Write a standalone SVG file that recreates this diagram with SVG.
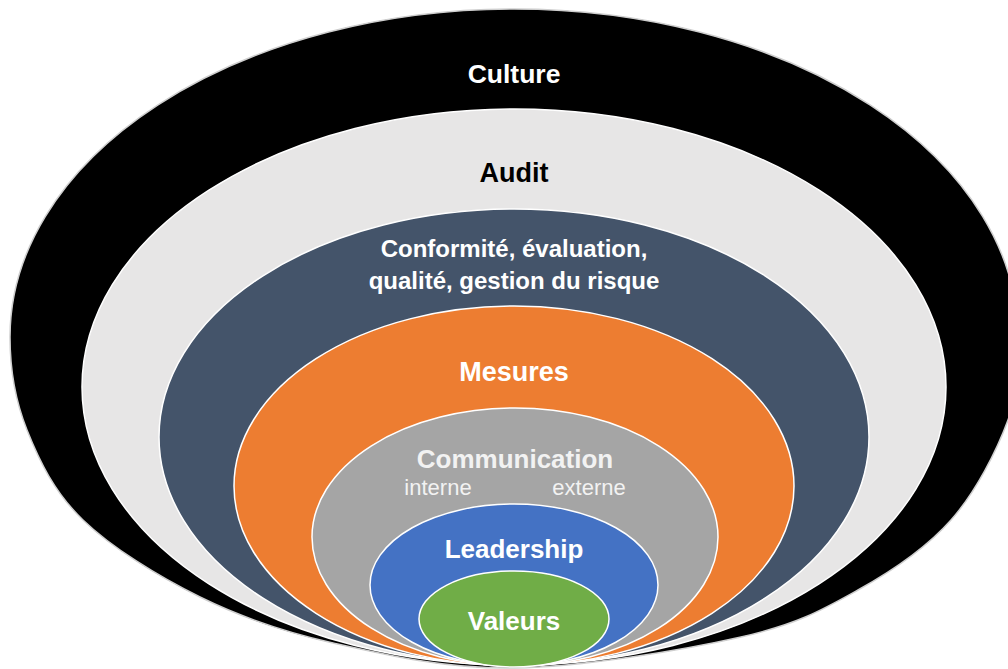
<svg xmlns="http://www.w3.org/2000/svg" width="1008" height="669" viewBox="0 0 1008 669">
<style>
.ring{stroke:#ffffff;stroke-width:1.5}
.lbl{font-family:"Liberation Sans",Arial,sans-serif;font-weight:bold;text-anchor:middle;fill:#ffffff}
.sub{font-family:"Liberation Sans",Arial,sans-serif;font-weight:normal;text-anchor:middle;fill:#f2f2f2;font-size:22px}
</style>
<rect width="1008" height="669" fill="#ffffff"/>
<g id="culture">
<path d="M10,337 C10,368 14.8,399.5 27,430 C39.2,460.5 54.2,492.2 83,520 C111.8,547.8 158.3,576.5 200,597 C241.7,617.5 280.7,631.2 333,643 C385.3,654.8 446,669 514,668 C582,667 683.7,650 741,637 C798.3,624 823,609.5 858,590 C893,570.5 926,548.3 951,520 C976,491.7 996.8,450.5 1008,420 C1019.2,389.5 1018,365 1018,337 A504,328 0 0 0 10,337 Z" fill="#000000" stroke="#cfcfcf" stroke-width="1.5"/>
<text class="lbl" x="514" y="83" font-size="26.5">Culture</text>
</g>
<g id="audit">
<ellipse class="ring" cx="514" cy="387" rx="432" ry="278" fill="#e7e6e6"/>
<text class="lbl" x="514" y="182" font-size="27" style="fill:#000000">Audit</text>
</g>
<g id="conformite">
<ellipse class="ring" cx="514" cy="437" rx="355" ry="228" fill="#44546a"/>
<text class="lbl" x="514" y="257" font-size="24">Conformité, évaluation,</text>
<text class="lbl" x="514" y="289" font-size="24">qualité, gestion du risque</text>
</g>
<g id="mesures">
<ellipse class="ring" cx="514" cy="486" rx="280" ry="180" fill="#ed7d31"/>
<text class="lbl" x="514" y="381" font-size="27">Mesures</text>
</g>
<g id="communication">
<ellipse class="ring" cx="515" cy="537" rx="203" ry="129" fill="#a5a5a5"/>
<text class="lbl" x="515" y="468" font-size="26" style="fill:#f2f2f2">Communication</text>
<text class="sub" x="438" y="495">interne</text>
<text class="sub" x="589" y="495">externe</text>
</g>
<g id="leadership">
<ellipse class="ring" cx="514" cy="585" rx="144" ry="81" fill="#4472c4"/>
<text class="lbl" x="514" y="558" font-size="26">Leadership</text>
</g>
<g id="valeurs">
<ellipse class="ring" cx="514" cy="619" rx="95" ry="48" fill="#70ad47"/>
<text class="lbl" x="514" y="630" font-size="26">Valeurs</text>
</g>
</svg>
